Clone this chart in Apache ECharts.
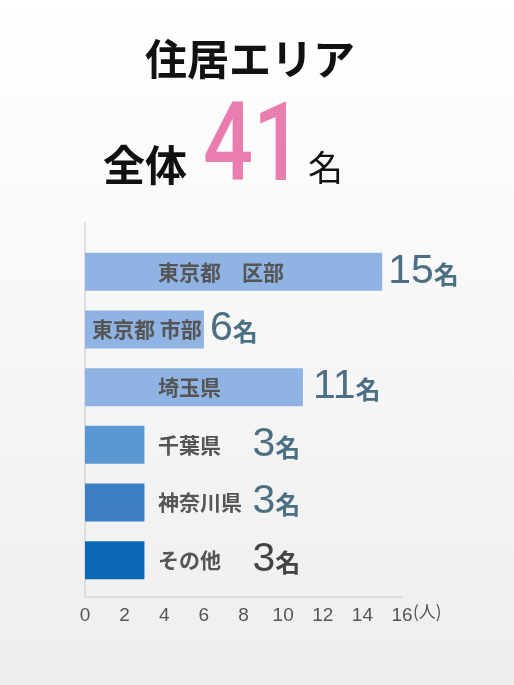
<!DOCTYPE html>
<html>
<head>
<meta charset="utf-8">
<script src="https://cdn.jsdelivr.net/npm/echarts@6/dist/echarts.min.js"></script>
<style>
  html, body { margin: 0; padding: 0; }
  #chart { width: 514px; height: 685px; }
</style>
</head>
<body>
<div id="chart"></div>
<script>
// data
const categories = ['東京都　区部', '東京都 市部', '埼玉県', '千葉県', '神奈川県', 'その他'];
const values = [15, 6, 11, 3, 3, 3];
const total = 41;
const barColors = ['#8fb3e2', '#8fb3e2', '#8fb3e2', '#5b98d3', '#3d7dc4', '#0d69b5'];
const axisMax = 16;
const axisStep = 2;

const JP = '"Noto Sans CJK JP", "Noto Sans", sans-serif';
const NUM = '"Liberation Sans", Arial, sans-serif';

const chart = echarts.init(document.getElementById('chart'));

// name label: left aligned at the same spot, except short bar (市部)
const nameData = values.map((v, i) => ({
  value: v,
  itemStyle: { color: barColors[i] },
  label: { distance: i === 1 ? 7 : 73 },
}));

// value label "15名" etc, the 3 small ones sit after the name
const valueData = values.map((v, i) => ({
  value: v,
  label: {
    distance: v <= 3 ? 108 : (i === 2 ? 10 : 6),
    rich: i === 5 ? { n: { color: '#444' }, u: { color: '#444' } } : {},
  },
}));

const option = {
  backgroundColor: {
    type: 'linear', x: 0, y: 0, x2: 0, y2: 1,
    colorStops: [{ offset: 0, color: '#ffffff' }, { offset: 1, color: '#eeeeee' }],
  },
  title: [
    {
      text: '住居エリア',
      left: 140,
      top: 30,
      textStyle: { fontFamily: JP, fontSize: 42, fontWeight: 'bold', color: '#111', lineHeight: 48 },
    },
    {
      text: '全体',
      left: 98,
      top: 139,
      textStyle: { fontFamily: JP, fontSize: 42, fontWeight: 'bold', color: '#111', lineHeight: 42 },
    },
    {
      text: '名',
      left: 303,
      top: 145,
      textStyle: { fontFamily: JP, fontSize: 35, fontWeight: 'normal', color: '#111', lineHeight: 35 },
    },
  ],
  // big pink total, squeezed a bit like the original
  graphic: [
    {
      type: 'text',
      x: 203,
      y: 152,
      scaleX: 0.8,
      style: {
        text: String(total),
        fontFamily: 'Roboto, ' + NUM,
        fontSize: 110,
        fontWeight: 500,
        fill: '#e97db0',
        align: 'left',
        verticalAlign: 'middle',
      },
    },
  ],
  grid: [
    { left: 85, right: 112, top: 243, bottom: 96 },
    { left: 85, right: 112, top: 223, bottom: 88 },
  ],
  xAxis: [
    { gridIndex: 0, type: 'value', min: 0, max: axisMax, show: false },
    {
      gridIndex: 1, type: 'value', min: 0, max: axisMax, interval: axisStep,
      axisLine: { show: true, lineStyle: { color: '#d6d6d6', width: 1.5 } },
      axisTick: { show: false },
      splitLine: { show: false },
      axisLabel: { color: '#555', fontFamily: NUM, fontSize: 19, margin: 9 },
      name: '(人)',
      nameLocation: 'end',
      nameGap: 11,
      nameMoveOverlap: false,
      nameTextStyle: { color: '#555', fontFamily: JP, fontSize: 17, verticalAlign: 'top', padding: [6, 0, 0, 0] },
    },
  ],
  yAxis: [
    { gridIndex: 0, type: 'category', data: categories, inverse: true, show: false },
    {
      gridIndex: 1, type: 'value', min: 0, max: 1,
      axisLine: { show: true, lineStyle: { color: '#d6d6d6', width: 1.5 } },
      axisTick: { show: false },
      axisLabel: { show: false },
      splitLine: { show: false },
    },
  ],
  series: [
    {
      name: 'bars',
      type: 'bar',
      xAxisIndex: 0,
      yAxisIndex: 0,
      barWidth: 38,
      silent: true,
      data: nameData,
      label: {
        show: true,
        position: 'insideLeft',
        formatter: '{b}',
        color: '#555',
        fontFamily: JP,
        fontSize: 21,
        fontWeight: 'bold',
      },
    },
    {
      name: 'values',
      type: 'bar',
      xAxisIndex: 0,
      yAxisIndex: 0,
      barWidth: 38,
      barGap: '-100%',
      silent: true,
      itemStyle: { color: 'rgba(0,0,0,0)' },
      data: valueData,
      label: {
        show: true,
        position: 'right',
        formatter: '{n|{c}}{u|名}',
        rich: {
          n: { fontFamily: NUM, fontSize: 41, color: '#4b7084', verticalAlign: 'bottom', lineHeight: 40 },
          u: { fontFamily: JP, fontSize: 25, fontWeight: 'bold', color: '#4b7084', verticalAlign: 'bottom', lineHeight: 30, padding: [0, 0, 5, 0] },
        },
      },
    },
  ],
};

chart.setOption(option);
</script>
</body>
</html>
